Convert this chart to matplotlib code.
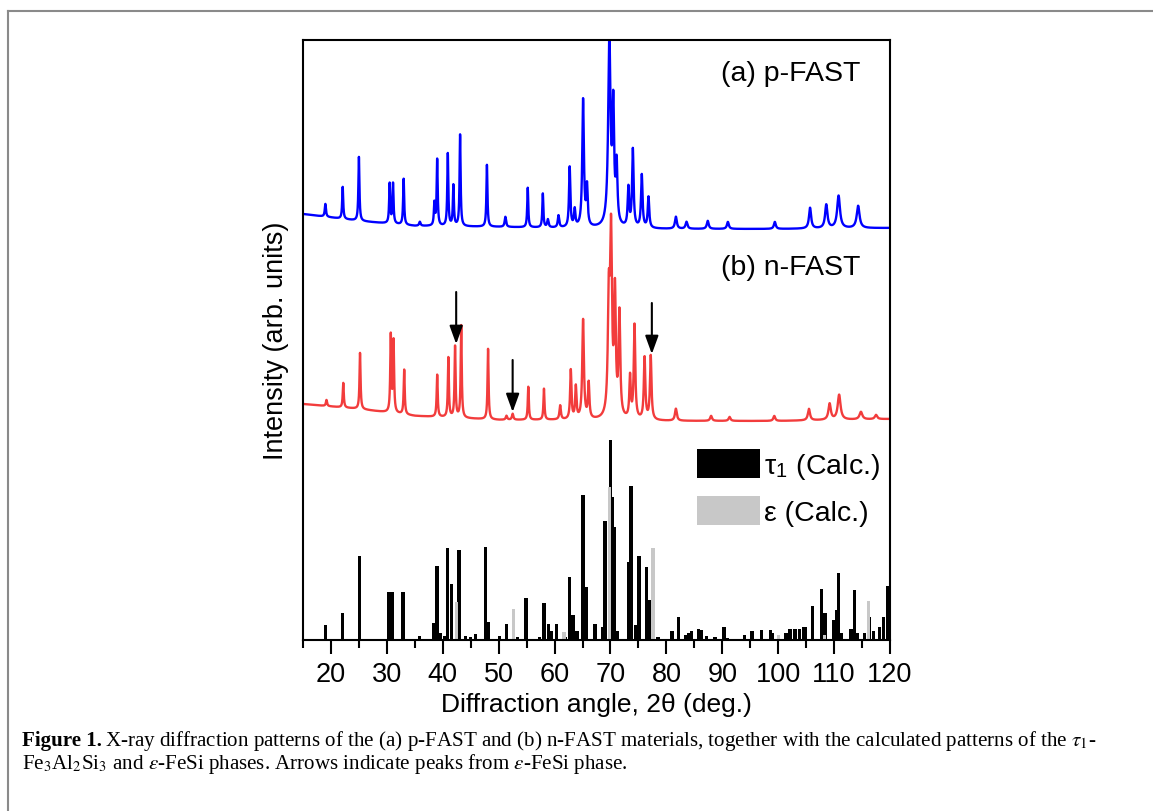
import numpy as np
import matplotlib.pyplot as plt
from matplotlib.lines import Line2D

plt.rcParams['font.family'] = ['Liberation Sans', 'DejaVu Sans']
plt.rcParams['mathtext.fontset'] = 'stix'

# --- measured patterns (2theta in deg, intensity in arb. units) ---
# baseline of each pattern, read at a few angles
blue_base_x = [15, 25, 35, 50, 60, 80, 100, 120]
blue_base_y = [426, 419, 414, 413, 412, 411, 411, 412]
red_base_x = [15, 25, 35, 50, 60, 80, 100, 120]
red_base_y = [236, 231, 224, 220, 220, 219, 219, 221]

# (a) p-FAST peaks: position, top, width
blue_pos = [19.0, 22.1, 25.0, 30.5, 31.1, 33.0, 35.9, 38.5, 39.0, 40.9, 41.9, 43.1,
            47.9, 51.2, 55.2, 57.9, 58.8, 60.7, 62.7, 63.6, 65.1, 65.8, 69.8, 70.5,
            71.1, 73.2, 74.0, 75.6, 76.8, 81.7, 83.6, 87.4, 91.0, 99.4, 105.7, 108.6,
            110.8, 114.3]
blue_top = [436, 453, 483, 456, 456, 461, 418, 436, 480, 486, 454, 505,
            475, 423, 452, 446, 420, 424, 472, 429, 539, 450, 598, 524,
            469, 450, 489, 464, 442, 423, 418, 419, 418, 418, 432, 435,
            444, 434]
blue_fwhm = [0.25, 0.22, 0.22, 0.22, 0.22, 0.22, 0.3, 0.22, 0.22, 0.22, 0.22, 0.22,
             0.22, 0.3, 0.22, 0.22, 0.3, 0.3, 0.28, 0.3, 0.35, 0.3, 0.5, 0.35,
             0.35, 0.3, 0.32, 0.32, 0.32, 0.4, 0.4, 0.4, 0.4, 0.4, 0.45, 0.5,
             0.6, 0.6]

# (b) n-FAST peaks
red_pos = [19.2, 22.2, 25.2, 30.7, 31.2, 33.1, 39.0, 41.0, 42.2, 43.3, 48.1, 51.4,
           52.5, 55.3, 58.1, 61.0, 62.9, 63.8, 65.1, 66.1, 69.7, 70.1, 70.8, 71.6,
           73.5, 74.3, 76.1, 77.2, 81.7, 88.0, 91.3, 99.3, 105.5, 109.2, 110.9, 114.8,
           117.5]
red_top = [240, 257, 287, 304, 298, 270, 265, 282, 293, 314, 291, 224,
           226, 253, 251, 234, 269, 252, 319, 255, 330, 395, 340, 322,
           261, 313, 281, 283, 231, 224, 223, 224, 231, 236, 245, 228,
           225]
red_fwhm = [0.25, 0.22, 0.22, 0.22, 0.22, 0.22, 0.22, 0.22, 0.22, 0.22, 0.22, 0.3,
            0.3, 0.22, 0.22, 0.3, 0.28, 0.28, 0.35, 0.3, 0.4, 0.4, 0.35, 0.35,
            0.3, 0.32, 0.32, 0.32, 0.4, 0.4, 0.4, 0.4, 0.45, 0.5, 0.6, 0.6,
            0.5]

# calculated patterns
tau_pos = [19.0, 22.1, 25.1, 30.4, 30.9, 32.9, 35.8, 38.4, 39.0, 39.6, 40.3, 40.9,
           41.6, 42.9, 44.1, 45.0, 45.9, 47.7, 48.1, 50.1, 51.4, 53.4, 54.9, 57.3,
           58.1, 58.9, 59.4, 60.3, 62.0, 62.7, 63.3, 64.0, 65.1, 65.6, 67.2, 68.6,
           69.0, 69.8, 70.0, 70.4, 70.7, 71.2, 73.3, 73.7, 74.5, 75.1, 76.4, 76.9,
           78.5, 81.0, 82.2, 83.4, 84.0, 84.5, 85.7, 86.3, 87.2, 88.7, 90.3, 90.9,
           94.0, 95.3, 97.0, 98.6, 99.0, 101.4, 102.1, 103.0, 103.8, 104.5, 104.9, 106.1,
           107.8, 108.4, 109.9, 110.4, 110.8, 111.3, 113.0, 113.6, 114.2, 115.4, 116.3, 117.0,
           118.1, 118.8, 119.5, 119.8]
tau_h = [15, 27, 84, 48, 48, 48, 4, 17, 74, 7, 4, 92,
         56, 90, 4, 3, 6, 93, 18, 4, 16, 3, 42, 3,
         37, 16, 9, 16, 3, 63, 25, 9, 145, 53, 16, 13,
         119, 86, 200, 143, 113, 9, 78, 154, 15, 84, 73, 40,
         3, 9, 23, 5, 7, 9, 11, 10, 4, 3, 13, 2,
         5, 9, 10, 10, 7, 7, 11, 11, 11, 13, 13, 34,
         51, 27, 20, 30, 67, 7, 11, 50, 7, 7, 23, 9,
         13, 23, 54, 54]
eps_pos = [42.4, 52.6, 61.7, 69.8, 77.6, 100.0, 108.3, 116.1]
eps_h = [38, 31, 8, 153, 92, 5, 5, 39]

# arrows marking eps-FeSi peaks in (b)
arrow_x = [42.4, 52.5, 77.4]
arrow_tail = [348, 280, 337]
arrow_tip = [296, 228, 286]


def pattern(x, pos, top, fwhm, bx, by):
    y = np.interp(x, bx, by)
    for p, t, w in zip(pos, top, fwhm):
        amp = t - np.interp(p, bx, by)
        y = y + amp / (1 + ((x - p) / (w / 2)) ** 2)
    return y


tt = np.arange(15, 120.001, 0.01)
blue = pattern(tt, blue_pos, blue_top, blue_fwhm, blue_base_x, blue_base_y)
red = pattern(tt, red_pos, red_top, red_fwhm, red_base_x, red_base_y)

fig = plt.figure(figsize=(11.53, 8.12), dpi=100)
ax = fig.add_axes([303 / 1153, 171 / 812, 587 / 1153, 600 / 812])

ax.plot(tt, blue, color='#0000ff', lw=1.7)
ax.plot(tt, red, color='#f23c3c', lw=1.7)
ax.bar(tau_pos, tau_h, width=0.6, color='black', label=r'τ$_\mathregular{1}$ (Calc.)')
ax.bar(eps_pos, eps_h, width=0.6, color='#c8c8c8', label='ε (Calc.)')

for xa, t0, t1 in zip(arrow_x, arrow_tail, arrow_tip):
    ax.annotate('', xy=(xa, t1), xytext=(xa, t0),
                arrowprops=dict(arrowstyle='-|>,head_length=0.55,head_width=0.2',
                                color='black', lw=1.5, shrinkA=0, shrinkB=0,
                                mutation_scale=20))

ax.text(0.949, 0.945, '(a) p-FAST', transform=ax.transAxes, ha='right', va='center', fontsize=20.5)
ax.text(0.949, 0.622, '(b) n-FAST', transform=ax.transAxes, ha='right', va='center', fontsize=20.5)

ax.legend(loc='upper right', bbox_to_anchor=(0.983, 0.319), frameon=False, fontsize=20.5,
          handlelength=2.2, handleheight=1.2, handletextpad=0.15, labelspacing=0.52,
          borderpad=0, borderaxespad=0)

ax.set_xlim(15, 120)
ax.set_ylim(0, 600)
ax.set_xticks(range(20, 121, 10))
ax.set_xticks(range(15, 120, 10), minor=True)
ax.set_yticks([])
ax.tick_params(axis='x', which='major', direction='out', length=10, width=1.5, labelsize=19.5, pad=5)
ax.tick_params(axis='x', which='minor', direction='out', length=6, width=1.5)
for s in ax.spines.values():
    s.set_linewidth(1.5)
ax.set_xlabel('Diffraction angle, 2θ (deg.)', fontsize=19, labelpad=4)
ax.set_ylabel('Intensity (arb. units)', fontsize=19.5, labelpad=10)

# page frame
fig.add_artist(Line2D([8 / 1153, 1], [1 - 12 / 812] * 2, transform=fig.transFigure,
                      color='#8a8a8a', lw=1.5))
fig.add_artist(Line2D([8 / 1153] * 2, [0, 1 - 12 / 812], transform=fig.transFigure,
                      color='#8a8a8a', lw=1.5))

# caption
cap_kw = dict(family='Liberation Serif', fontsize=15.1, va='baseline')
t_bold = fig.text(22 / 1153, 1 - 746 / 812, 'Figure 1.', weight='bold', **cap_kw)
fig.canvas.draw()
bb = t_bold.get_window_extent()
fig.text(bb.x1 / fig.bbox.width + 0.003, 1 - 746 / 812,
         'X-ray diffraction patterns of the (a) p-FAST and (b) n-FAST materials, '
         r'together with the calculated patterns of the $\tau_1$-', **cap_kw)
fig.text(22 / 1153, 1 - 769 / 812,
         r'Fe$_3$Al$_2$Si$_3$ and $\varepsilon$-FeSi phases. Arrows indicate peaks from '
         r'$\varepsilon$-FeSi phase.', **cap_kw)

fig.savefig('out.png', dpi=100)
